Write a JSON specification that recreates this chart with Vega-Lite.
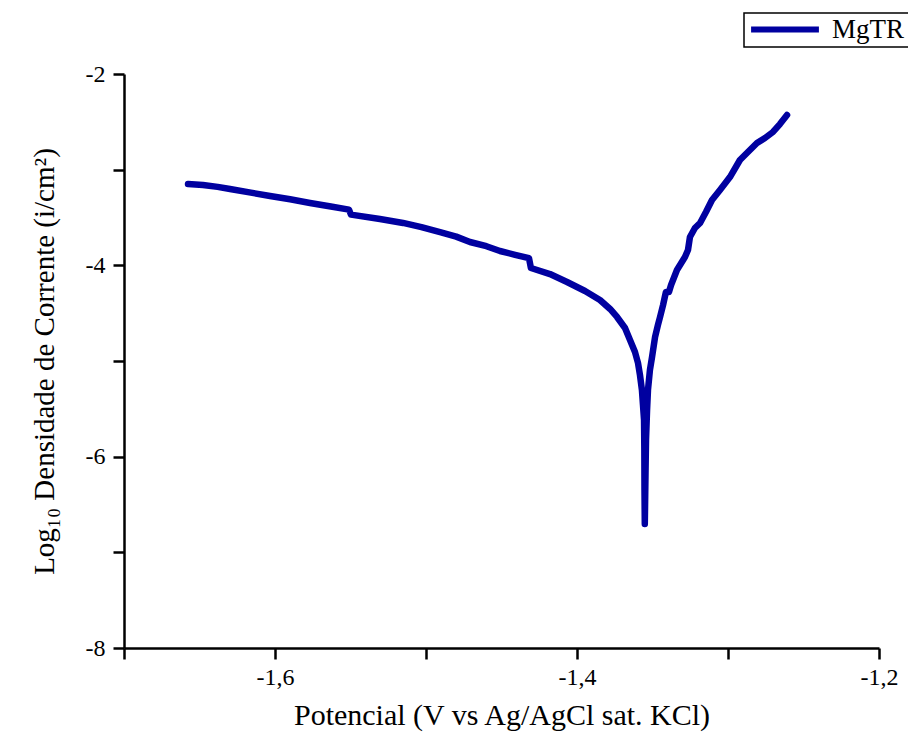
{
  "$schema": "https://vega.github.io/schema/vega-lite/v6.json",
  "width": 755,
  "height": 574,
  "autosize": {"type": "none"},
  "padding": {"left": 124, "top": 74, "right": 29, "bottom": 86},
  "background": "white",
  "config": {
    "view": {"stroke": null},
    "font": "Liberation Serif",
    "axis": {"labelFont": "Liberation Serif", "titleFont": "Liberation Serif", "labelFontSize": 24},
    "legend": {"labelFont": "Liberation Serif"}
  },
  "data": {
    "values": [
      {"i": 1, "E": -1.6576, "L": -3.150},
      {"i": 2, "E": -1.6477, "L": -3.160},
      {"i": 3, "E": -1.6380, "L": -3.180},
      {"i": 4, "E": -1.6298, "L": -3.202},
      {"i": 5, "E": -1.6160, "L": -3.240},
      {"i": 6, "E": -1.6033, "L": -3.275},
      {"i": 7, "E": -1.5900, "L": -3.310},
      {"i": 8, "E": -1.5768, "L": -3.348},
      {"i": 9, "E": -1.5630, "L": -3.385},
      {"i": 10, "E": -1.5510, "L": -3.418},
      {"i": 11, "E": -1.5497, "L": -3.470},
      {"i": 12, "E": -1.5305, "L": -3.516},
      {"i": 13, "E": -1.5152, "L": -3.557},
      {"i": 14, "E": -1.5030, "L": -3.600},
      {"i": 15, "E": -1.4907, "L": -3.652},
      {"i": 16, "E": -1.4800, "L": -3.700},
      {"i": 17, "E": -1.4709, "L": -3.756},
      {"i": 18, "E": -1.4600, "L": -3.800},
      {"i": 19, "E": -1.4510, "L": -3.850},
      {"i": 20, "E": -1.4410, "L": -3.890},
      {"i": 21, "E": -1.4318, "L": -3.925},
      {"i": 22, "E": -1.4305, "L": -4.028},
      {"i": 23, "E": -1.4179, "L": -4.091},
      {"i": 24, "E": -1.4066, "L": -4.174},
      {"i": 25, "E": -1.3947, "L": -4.268},
      {"i": 26, "E": -1.3848, "L": -4.362},
      {"i": 27, "E": -1.3781, "L": -4.456},
      {"i": 28, "E": -1.3735, "L": -4.540},
      {"i": 29, "E": -1.3682, "L": -4.655},
      {"i": 30, "E": -1.3649, "L": -4.780},
      {"i": 31, "E": -1.3616, "L": -4.906},
      {"i": 32, "E": -1.3596, "L": -5.021},
      {"i": 33, "E": -1.3583, "L": -5.146},
      {"i": 34, "E": -1.3570, "L": -5.303},
      {"i": 35, "E": -1.3563, "L": -5.460},
      {"i": 36, "E": -1.3556, "L": -5.617},
      {"i": 37, "E": -1.3554, "L": -5.930},
      {"i": 38, "E": -1.3553, "L": -6.348},
      {"i": 39, "E": -1.3551, "L": -6.704},
      {"i": 40, "E": -1.3546, "L": -6.139},
      {"i": 41, "E": -1.3543, "L": -5.826},
      {"i": 42, "E": -1.3536, "L": -5.512},
      {"i": 43, "E": -1.3530, "L": -5.303},
      {"i": 44, "E": -1.3517, "L": -5.094},
      {"i": 45, "E": -1.3503, "L": -4.958},
      {"i": 46, "E": -1.3483, "L": -4.749},
      {"i": 47, "E": -1.3464, "L": -4.624},
      {"i": 48, "E": -1.3450, "L": -4.540},
      {"i": 49, "E": -1.3430, "L": -4.415},
      {"i": 50, "E": -1.3417, "L": -4.321},
      {"i": 51, "E": -1.3411, "L": -4.279},
      {"i": 52, "E": -1.3391, "L": -4.279},
      {"i": 53, "E": -1.3377, "L": -4.206},
      {"i": 54, "E": -1.3338, "L": -4.049},
      {"i": 55, "E": -1.3285, "L": -3.913},
      {"i": 56, "E": -1.3265, "L": -3.840},
      {"i": 57, "E": -1.3252, "L": -3.704},
      {"i": 58, "E": -1.3219, "L": -3.610},
      {"i": 59, "E": -1.3185, "L": -3.557},
      {"i": 60, "E": -1.3146, "L": -3.442},
      {"i": 61, "E": -1.3106, "L": -3.317},
      {"i": 62, "E": -1.3053, "L": -3.212},
      {"i": 63, "E": -1.2987, "L": -3.077},
      {"i": 64, "E": -1.2921, "L": -2.899},
      {"i": 65, "E": -1.2868, "L": -2.815},
      {"i": 66, "E": -1.2808, "L": -2.721},
      {"i": 67, "E": -1.2755, "L": -2.669},
      {"i": 68, "E": -1.2702, "L": -2.606},
      {"i": 69, "E": -1.2656, "L": -2.523},
      {"i": 70, "E": -1.2609, "L": -2.429}
    ]
  },
  "mark": {"type": "line", "strokeWidth": 6.5, "strokeCap": "round", "strokeJoin": "round"},
  "encoding": {
    "x": {
      "field": "E",
      "type": "quantitative",
      "scale": {"domain": [-1.7, -1.2], "nice": false, "zero": false},
      "axis": {
        "title": "Potencial (V vs Ag/AgCl sat. KCl)",
        "titleFont": "Liberation Serif",
        "titleFontSize": 30,
        "titleFontWeight": "normal",
        "titleColor": "black",
        "titlePadding": 11,
        "values": [-1.7, -1.6, -1.5, -1.4, -1.3, -1.2],
        "labelExpr": "abs(round(datum.value*10)) % 2 == 0 ? '-' + replace(format(abs(datum.value), '.1f'), '.', ',') : ''",
        "labelFont": "Liberation Serif",
        "labelFontSize": 24,
        "labelColor": "black",
        "labelPadding": 6,
        "labelOverlap": false,
        "labelFlush": false,
        "grid": false,
        "domainColor": "black",
        "domainWidth": 2.5,
        "tickColor": "black",
        "tickWidth": 2.5,
        "tickSize": 11,
        "encode": {"labels": {"update": {"fontSize": {"value": 24}, "font": {"value": "Liberation Serif"}}}}
      }
    },
    "y": {
      "field": "L",
      "type": "quantitative",
      "scale": {"domain": [-8, -2], "nice": false, "zero": false},
      "axis": {
        "title": "Log₁₀ Densidade de Corrente (i/cm²)",
        "titleFont": "Liberation Serif",
        "titleFontSize": 29,
        "titleFontWeight": "normal",
        "titleColor": "black",
        "titlePadding": 26,
        "values": [-8, -7, -6, -5, -4, -3, -2],
        "labelExpr": "abs(round(datum.value)) % 2 == 0 ? '-' + format(abs(datum.value), 'd') : ''",
        "labelFont": "Liberation Serif",
        "labelFontSize": 24,
        "labelColor": "black",
        "labelPadding": 8,
        "labelOverlap": false,
        "labelFlush": false,
        "grid": false,
        "domainColor": "black",
        "domainWidth": 2.5,
        "tickColor": "black",
        "tickWidth": 2.5,
        "tickSize": 11,
        "encode": {"labels": {"update": {"fontSize": {"value": 24}, "font": {"value": "Liberation Serif"}}}}
      }
    },
    "order": {"field": "i", "type": "quantitative"},
    "color": {
      "datum": "MgTR",
      "type": "nominal",
      "scale": {"range": ["#0000a0"]},
      "legend": {
        "title": null,
        "orient": "none",
        "legendX": 620,
        "legendY": -61,
        "symbolType": "stroke",
        "symbolSize": 4600,
        "symbolStrokeWidth": 6,
        "clipHeight": 25,
        "labelFont": "Liberation Serif",
        "labelFontSize": 27,
        "labelColor": "black",
        "labelOffset": 10,
        "padding": 4,
        "strokeColor": "black",
        "fillColor": "white",
        "encode": {"legend": {"update": {"strokeWidth": {"value": 1.5}}}}
      }
    }
  }
}
